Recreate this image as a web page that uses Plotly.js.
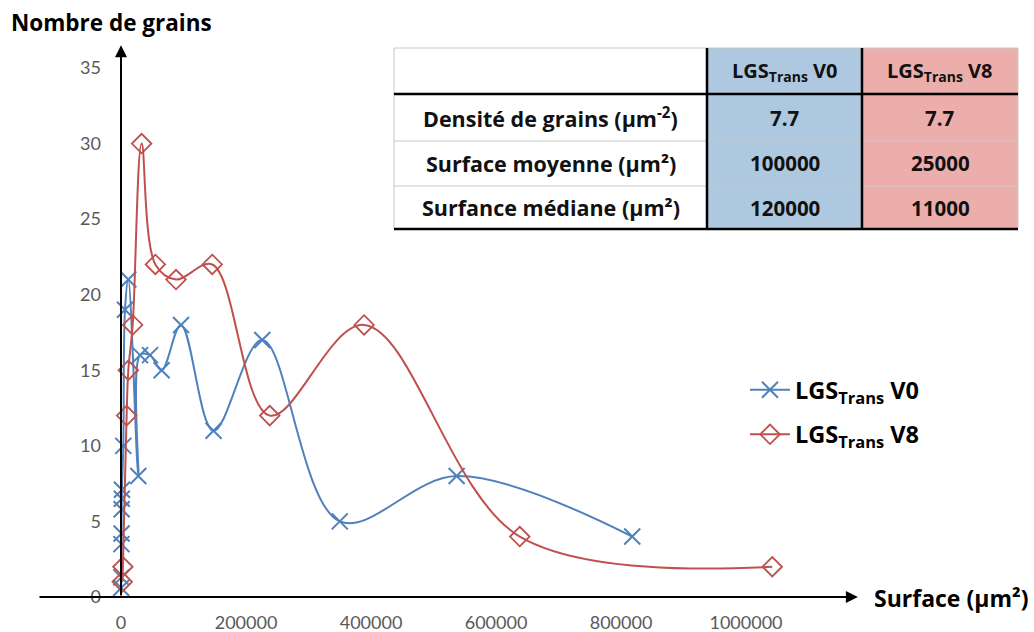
<!DOCTYPE html>
<html>
<head>
<meta charset="utf-8">
<script src="https://cdn.plot.ly/plotly-3.0.1.min.js"></script>
<style>html,body{margin:0;padding:0;background:#fff;}#chart{width:1034px;height:632px;}</style>
</head>
<body>
<div id="chart"></div>
<script>
// ---------- data ----------
const seriesNames = ["<b>LGS<sub>Trans</sub> V0</b>", "<b>LGS<sub>Trans</sub> V8</b>"];
const v0X = [300, 500, 700, 900, 1100, 1300, 1500, 3700, 6400, 11700, 27700, 30400, 46400, 65000, 96000, 148000, 226000, 350000, 537000, 818000];
const v0Y = [0.6, 1.3, 3.5, 4.2, 5.8, 6.5, 7.1, 10, 19, 21, 8, 16, 16, 15, 18, 11, 17, 5, 8, 4];
const v8X = [2000, 3000, 9000, 11700, 18700, 33000, 55000, 88000, 146000, 238000, 389000, 638000, 1042000];
const v8Y = [1, 2, 12, 15, 18, 30, 22, 21, 22, 12, 18, 4, 2];

const xTickVals = [0, 200000, 400000, 600000, 800000, 1000000];
const xTickText = ["0", "200000", "400000", "600000", "800000", "1000000"];
const yTickVals = [0, 5, 10, 15, 20, 25, 30, 35];

const xTitle = "<b>Surface (µm²)</b>";
const yTitle = "<b>Nombre de grains</b>";

const tableHeaders = ["", "<b>LGS<sub>Trans</sub> V0</b>", "<b>LGS<sub>Trans</sub> V8</b>"];
const tableRowLabels = ["<b>Densité de grains (µm<sup>-2</sup>)</b>", "<b>Surface moyenne (µm²)</b>", "<b>Surfance médiane (µm²)</b>"];
const tableV0 = ["7.7", "100000", "120000"];
const tableV8 = ["7.7", "25000", "11000"];

// ---------- layout geometry ----------
const W = 1034, H = 632;
const M = {l: 38, r: 174, t: 40, b: 27};
const plotW = W - M.l - M.r, plotH = H - M.t - M.b;
const px = v => (v - M.l) / plotW;          // pixel -> paper x
const py = v => (H - M.b - v) / plotH;      // pixel -> paper y

const FONT = "Lato, 'Open Sans', sans-serif";
const BFONT = "'Open Sans', Lato, sans-serif";
const blue = "#4f81bd", red = "#c0504d";

const traces = [
  {x: v0X, y: v0Y, name: seriesNames[0], legendgroup: "a", type: "scatter", mode: "lines+markers",
   line: {color: blue, width: 2, shape: "spline", smoothing: 1},
   marker: {symbol: "x-thin-open", size: 16, color: blue, line: {color: blue, width: 2}},
   cliponaxis: false},
  {x: v8X, y: v8Y, name: seriesNames[1], legendgroup: "b", type: "scatter", mode: "lines+markers",
   line: {color: red, width: 2, shape: "spline", smoothing: 1},
   marker: {symbol: "diamond-open", size: 15, color: red, line: {color: red, width: 1.8}},
   cliponaxis: false}
];

// table geometry (pixels)
const colEdges = [394, 707, 862, 1018];
const rowEdges = [48, 94, 141, 186, 229];
const colFills = [null, "#adc8df", "#ebaeaa"];

const shapes = [];
colFills.forEach((c, i) => {
  if (!c) return;
  shapes.push({type: "rect", xref: "paper", yref: "paper",
    x0: px(colEdges[i]), x1: px(colEdges[i + 1]), y0: py(rowEdges[4]), y1: py(rowEdges[0]),
    fillcolor: c, line: {width: 0}});
});
const thin = {color: "#c8c8c8", width: 1};
[rowEdges[0], rowEdges[2], rowEdges[3]].forEach(r => shapes.push({type: "line", xref: "paper", yref: "paper",
  x0: px(colEdges[0]), x1: px(colEdges[3]), y0: py(r), y1: py(r), line: thin}));
[colEdges[0], colEdges[3]].forEach(c => shapes.push({type: "line", xref: "paper", yref: "paper",
  x0: px(c), x1: px(c), y0: py(rowEdges[0]), y1: py(rowEdges[4]), line: thin}));
const thick = {color: "#000", width: 2.5};
[rowEdges[1], rowEdges[4]].forEach(r => shapes.push({type: "line", xref: "paper", yref: "paper",
  x0: px(colEdges[0]), x1: px(colEdges[3]), y0: py(r), y1: py(r), line: thick}));
[colEdges[1], colEdges[2]].forEach(c => shapes.push({type: "line", xref: "paper", yref: "paper",
  x0: px(c), x1: px(c), y0: py(rowEdges[0]), y1: py(rowEdges[4]), line: thick}));

const annotations = [];
const headFont = {family: BFONT, size: 20, color: "#111"};
const labelFont = {family: BFONT, size: 21.5, color: "#111"};
const valFont = {family: BFONT, size: 20.5, color: "#111"};
const rowsText = [tableHeaders].concat(tableRowLabels.map((l, i) => [l, "<b>" + tableV0[i] + "</b>", "<b>" + tableV8[i] + "</b>"]));
rowsText.forEach((row, r) => {
  row.forEach((t, c) => {
    if (!t) return;
    annotations.push({xref: "paper", yref: "paper", showarrow: false, text: t,
      x: px((colEdges[c] + colEdges[c + 1]) / 2), y: py((rowEdges[r] + rowEdges[r + 1]) / 2),
      xanchor: "center", yanchor: "middle", font: r === 0 ? headFont : (c === 0 ? labelFont : valFont)});
  });
});

// axis titles
annotations.push({xref: "paper", yref: "paper", showarrow: false, text: yTitle,
  x: px(9), y: py(22), xanchor: "left", yanchor: "middle", font: {family: BFONT, size: 22.5, color: "#000"}});
annotations.push({xref: "paper", yref: "paper", showarrow: false, text: xTitle,
  x: px(872), y: py(598), xanchor: "left", yanchor: "middle", font: {family: BFONT, size: 23, color: "#000"}});

// axis lines with arrowheads (data coordinates)
const xMin = -132800, xMax = 1182400, yMin = -0.53, yMax = 36.85;
annotations.push({xref: "x", yref: "y", axref: "x", ayref: "y", x: 1179000, y: 0, ax: xMin, ay: 0,
  showarrow: true, arrowhead: 2, arrowsize: 1.2, arrowwidth: 2, arrowcolor: "#000", text: "", standoff: 0});
annotations.push({xref: "x", yref: "y", axref: "x", ayref: "y", x: 0, y: 36.5, ax: 0, ay: 0,
  showarrow: true, arrowhead: 2, arrowsize: 1.2, arrowwidth: 2, arrowcolor: "#000", text: "", standoff: 0});

const layout = {
  width: W, height: H, margin: M,
  paper_bgcolor: "#fff", plot_bgcolor: "#fff",
  showlegend: true,
  legend: {x: px(745), y: py(368), xanchor: "left", yanchor: "top", traceorder: "grouped", tracegroupgap: 11,
    font: {family: BFONT, size: 23.5, color: "#000"}, bgcolor: "rgba(0,0,0,0)", itemwidth: 40},
  xaxis: {range: [xMin, xMax], tickvals: xTickVals, ticktext: xTickText, showgrid: false, zeroline: false,
    showline: false, ticks: "", ticklabelstandoff: 5, tickfont: {family: FONT, size: 18, color: "#595959"}},
  yaxis: {range: [yMin, yMax], tickvals: yTickVals, anchor: "free", position: px(121), showgrid: false,
    zeroline: false, showline: false, ticks: "", ticklabelstandoff: 20,
    tickfont: {family: FONT, size: 18, color: "#595959"}},
  shapes: shapes,
  annotations: annotations
};

Plotly.newPlot("chart", traces, layout, {displayModeBar: false, staticPlot: true});
</script>
</body>
</html>
